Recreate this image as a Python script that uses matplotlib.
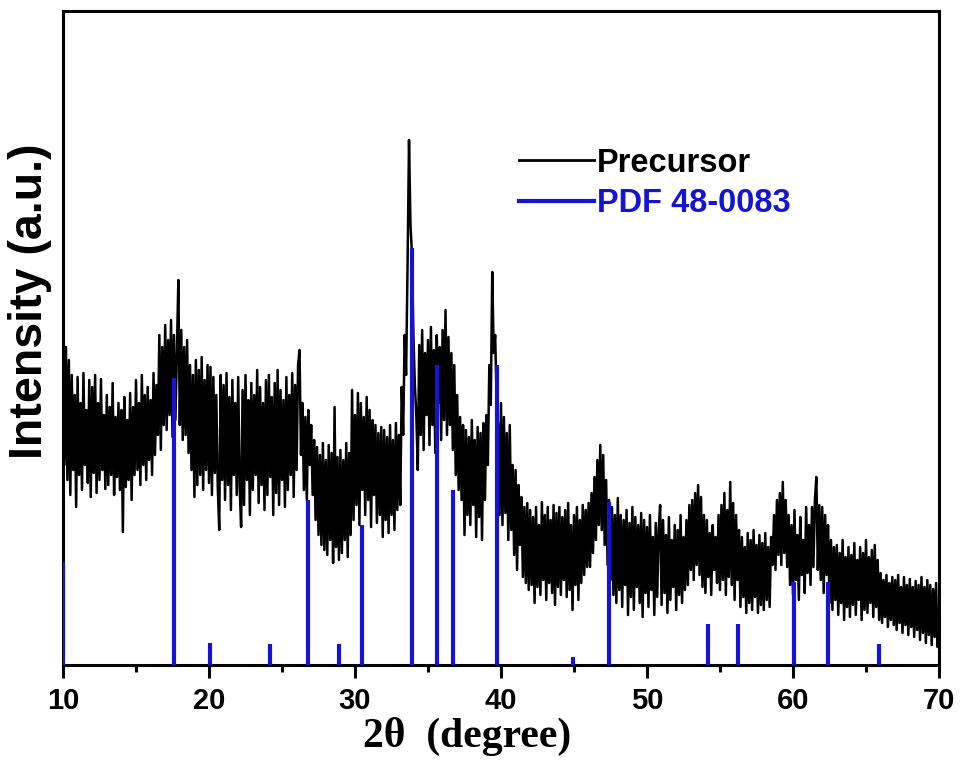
import matplotlib
matplotlib.use("Agg")
import matplotlib.pyplot as plt
from matplotlib.lines import Line2D
import numpy as np

# ---- data ----
two_theta_start = 10.0
two_theta_step = 0.1
intensity_rows = [
    [355, 200, 318, 185, 305, 170, 290, 195, 270, 158],   # 10.x
    [288, 190, 262, 175, 292, 200, 255, 182, 285, 168],   # 11.x
    [278, 192, 290, 172, 262, 185, 286, 195, 250, 176],   # 12.x
    [270, 180, 258, 190, 282, 170, 248, 188, 262, 175],   # 13.x
    [255, 133, 268, 178, 245, 185, 272, 165, 258, 190],   # 14.x
    [285, 195, 262, 180, 290, 200, 270, 185, 278, 205],   # 15.x
    [265, 190, 292, 210, 280, 230, 330, 215, 318, 240],   # 16.x
    [340, 235, 325, 250, 345, 228, 330, 245, 312, 385],   # 17.x
    [240, 335, 225, 318, 230, 325, 212, 300, 195, 290],   # 18.x
    [168, 305, 180, 295, 190, 308, 175, 285, 195, 300],   # 19.x
    [182, 298, 170, 288, 192, 270, 178, 135, 290, 185],   # 20.x
    [280, 165, 292, 180, 268, 155, 285, 190, 262, 170],   # 21.x
    [288, 178, 138, 275, 160, 290, 185, 265, 150, 282],   # 22.x
    [175, 270, 190, 295, 162, 278, 180, 262, 155, 285],   # 23.x
    [170, 290, 188, 268, 150, 282, 172, 295, 160, 275],   # 24.x
    [185, 265, 158, 288, 175, 270, 190, 292, 168, 280],   # 25.x
    [195, 300, 315, 210, 262, 175, 248, 165, 255, 200],   # 26.x
    [240, 170, 225, 145, 218, 130, 210, 120, 222, 115],   # 27.x
    [205, 110, 220, 125, 212, 102, 258, 118, 208, 105],   # 28.x
    [215, 112, 205, 125, 222, 108, 212, 130, 275, 145],   # 29.x
    [250, 160, 272, 140, 262, 175, 248, 150, 268, 165],   # 30.x
    [255, 138, 245, 170, 240, 142, 232, 150, 238, 128],   # 31.x
    [235, 145, 228, 132, 240, 150, 225, 135, 242, 155],   # 32.x
    [230, 160, 278, 230, 330, 290, 400, 525, 440, 412],   # 33.x
    [330, 280, 250, 195, 320, 230, 335, 215, 312, 250],   # 34.x
    [325, 220, 338, 240, 315, 212, 330, 262, 318, 225],   # 35.x
    [335, 245, 355, 230, 328, 240, 312, 215, 300, 190],   # 36.x
    [270, 175, 248, 165, 240, 130, 235, 150, 228, 140],   # 37.x
    [245, 160, 225, 128, 238, 148, 232, 125, 242, 165],   # 38.x
    [250, 200, 300, 260, 393, 312, 330, 265, 240, 150],   # 39.x
    [262, 140, 248, 152, 232, 125, 240, 135, 200, 110],   # 40.x
    [195, 95, 180, 120, 168, 88, 158, 82, 162, 75],       # 41.x
    [155, 80, 148, 62, 158, 78, 140, 70, 163, 85],        # 42.x
    [150, 65, 158, 82, 145, 72, 160, 60, 152, 78],        # 43.x
    [158, 70, 148, 85, 155, 68, 162, 75, 140, 55],        # 44.x
    [150, 80, 158, 65, 145, 82, 160, 90, 155, 98],        # 45.x
    [162, 98, 172, 112, 188, 125, 205, 140, 220, 135],    # 46.x
    [210, 120, 185, 100, 165, 85, 158, 70, 150, 62],      # 47.x
    [167, 75, 150, 58, 145, 80, 155, 50, 142, 68],        # 48.x
    [158, 55, 148, 78, 140, 62, 152, 48, 145, 72],        # 49.x
    [138, 58, 150, 75, 128, 50, 142, 68, 135, 160],       # 50.x
    [60, 145, 72, 130, 52, 148, 65, 125, 78, 140],        # 51.x
    [55, 135, 70, 150, 62, 128, 75, 145, 80, 160],        # 52.x
    [95, 165, 85, 172, 100, 180, 90, 168, 78, 150],       # 53.x
    [72, 145, 88, 132, 70, 140, 95, 128, 82, 150],        # 54.x
    [75, 160, 85, 172, 70, 155, 88, 183, 80, 162],        # 55.x
    [65, 150, 85, 135, 58, 128, 68, 118, 52, 132],        # 56.x
    [62, 125, 55, 135, 68, 120, 52, 130, 60, 122],        # 57.x
    [55, 132, 65, 118, 58, 128, 100, 150, 95, 165],       # 58.x
    [110, 172, 100, 183, 112, 165, 98, 150, 80, 140],     # 59.x
    [70, 155, 85, 130, 65, 148, 90, 125, 72, 158],        # 60.x
    [92, 140, 80, 158, 98, 165, 188, 95, 160, 85],        # 61.x
    [158, 72, 150, 90, 140, 62, 125, 55, 118, 65],        # 62.x
    [120, 50, 112, 62, 125, 45, 108, 58, 118, 48],        # 63.x
    [110, 60, 122, 50, 105, 65, 118, 45, 112, 55],        # 64.x
    [125, 52, 108, 62, 115, 48, 120, 58, 105, 45],        # 65.x
    [92, 42, 85, 48, 90, 38, 82, 45, 88, 40],             # 66.x
    [85, 35, 90, 42, 78, 32, 88, 40, 80, 30],             # 67.x
    [86, 38, 78, 28, 84, 35, 80, 25, 88, 32],             # 68.x
    [78, 22, 85, 30, 80, 20, 76, 28, 82, 18],             # 69.x
    [40],                                                 # 70.0
]

pdf_positions = [10.0, 17.6, 20.1, 24.2, 26.8, 28.9, 30.5, 33.9, 35.6, 36.7,
                 39.7, 44.9, 47.4, 54.2, 56.2, 60.1, 62.4, 65.9]
pdf_heights = [103, 287, 22, 21, 165, 21, 140, 417, 300, 175,
               300, 8, 163, 41, 41, 83, 83, 21]

x_ticks = [10, 20, 30, 40, 50, 60, 70]
series_labels = ["Precursor", "PDF 48-0083"]

# ---- build ----
intensity = np.array([v for row in intensity_rows for v in row], dtype=float)
two_theta = two_theta_start + two_theta_step * np.arange(len(intensity))

fig = plt.figure(figsize=(9.61, 7.61), dpi=100)
ax = fig.add_axes([63/961, 1-665/761, (939-63)/961, (665-11)/761])

blue = "#1414d2"
line_black, = ax.plot(two_theta, intensity, color="black", lw=1.8,
                      label=series_labels[0], zorder=2)
ax.vlines(pdf_positions, 0, pdf_heights, colors=blue, lw=3.0, zorder=3)
blue_handle = Line2D([], [], color=blue, lw=3.0)

ax.set_xlim(10, 70)
ax.set_ylim(0, 654)
ax.set_xticks(x_ticks)
ax.set_xticks(np.arange(15, 70, 10), minor=True)
ax.set_yticks([])
for s in ax.spines.values():
    s.set_linewidth(2.2)
ax.tick_params(axis="x", which="major", direction="out", length=9, width=2.2,
               pad=7)
ax.tick_params(axis="x", which="minor", direction="out", length=5, width=2.2)

tick_font = ["Liberation Sans Narrow", "Liberation Sans", "DejaVu Sans"]
for lab in ax.get_xticklabels():
    lab.set_fontfamily(tick_font)
    lab.set_fontweight("bold")
    lab.set_fontsize(21)

ax.set_xlabel("2θ  (degree)", fontfamily=["Liberation Serif", "DejaVu Serif"],
              fontweight="bold", fontsize=30)
ax.xaxis.set_label_coords(0.461, -0.079)
ax.set_ylabel("Intensity (a.u.)", fontfamily=["Liberation Sans", "DejaVu Sans"],
              fontweight="bold", fontsize=33.5)
ax.yaxis.set_label_coords(-0.012, 0.557)

leg = ax.legend([line_black, blue_handle], series_labels, frameon=False,
                loc="upper left", bbox_to_anchor=(0.487, 0.836),
                handlelength=2.3, handletextpad=0.1, labelspacing=0.3,
                prop={"family": ["Liberation Sans", "DejaVu Sans"],
                      "weight": "bold", "size": 23.5},
                labelcolor=["black", blue])
leg.get_lines()[0].set_linewidth(2.0)

fig.savefig("out.png", dpi=100)
